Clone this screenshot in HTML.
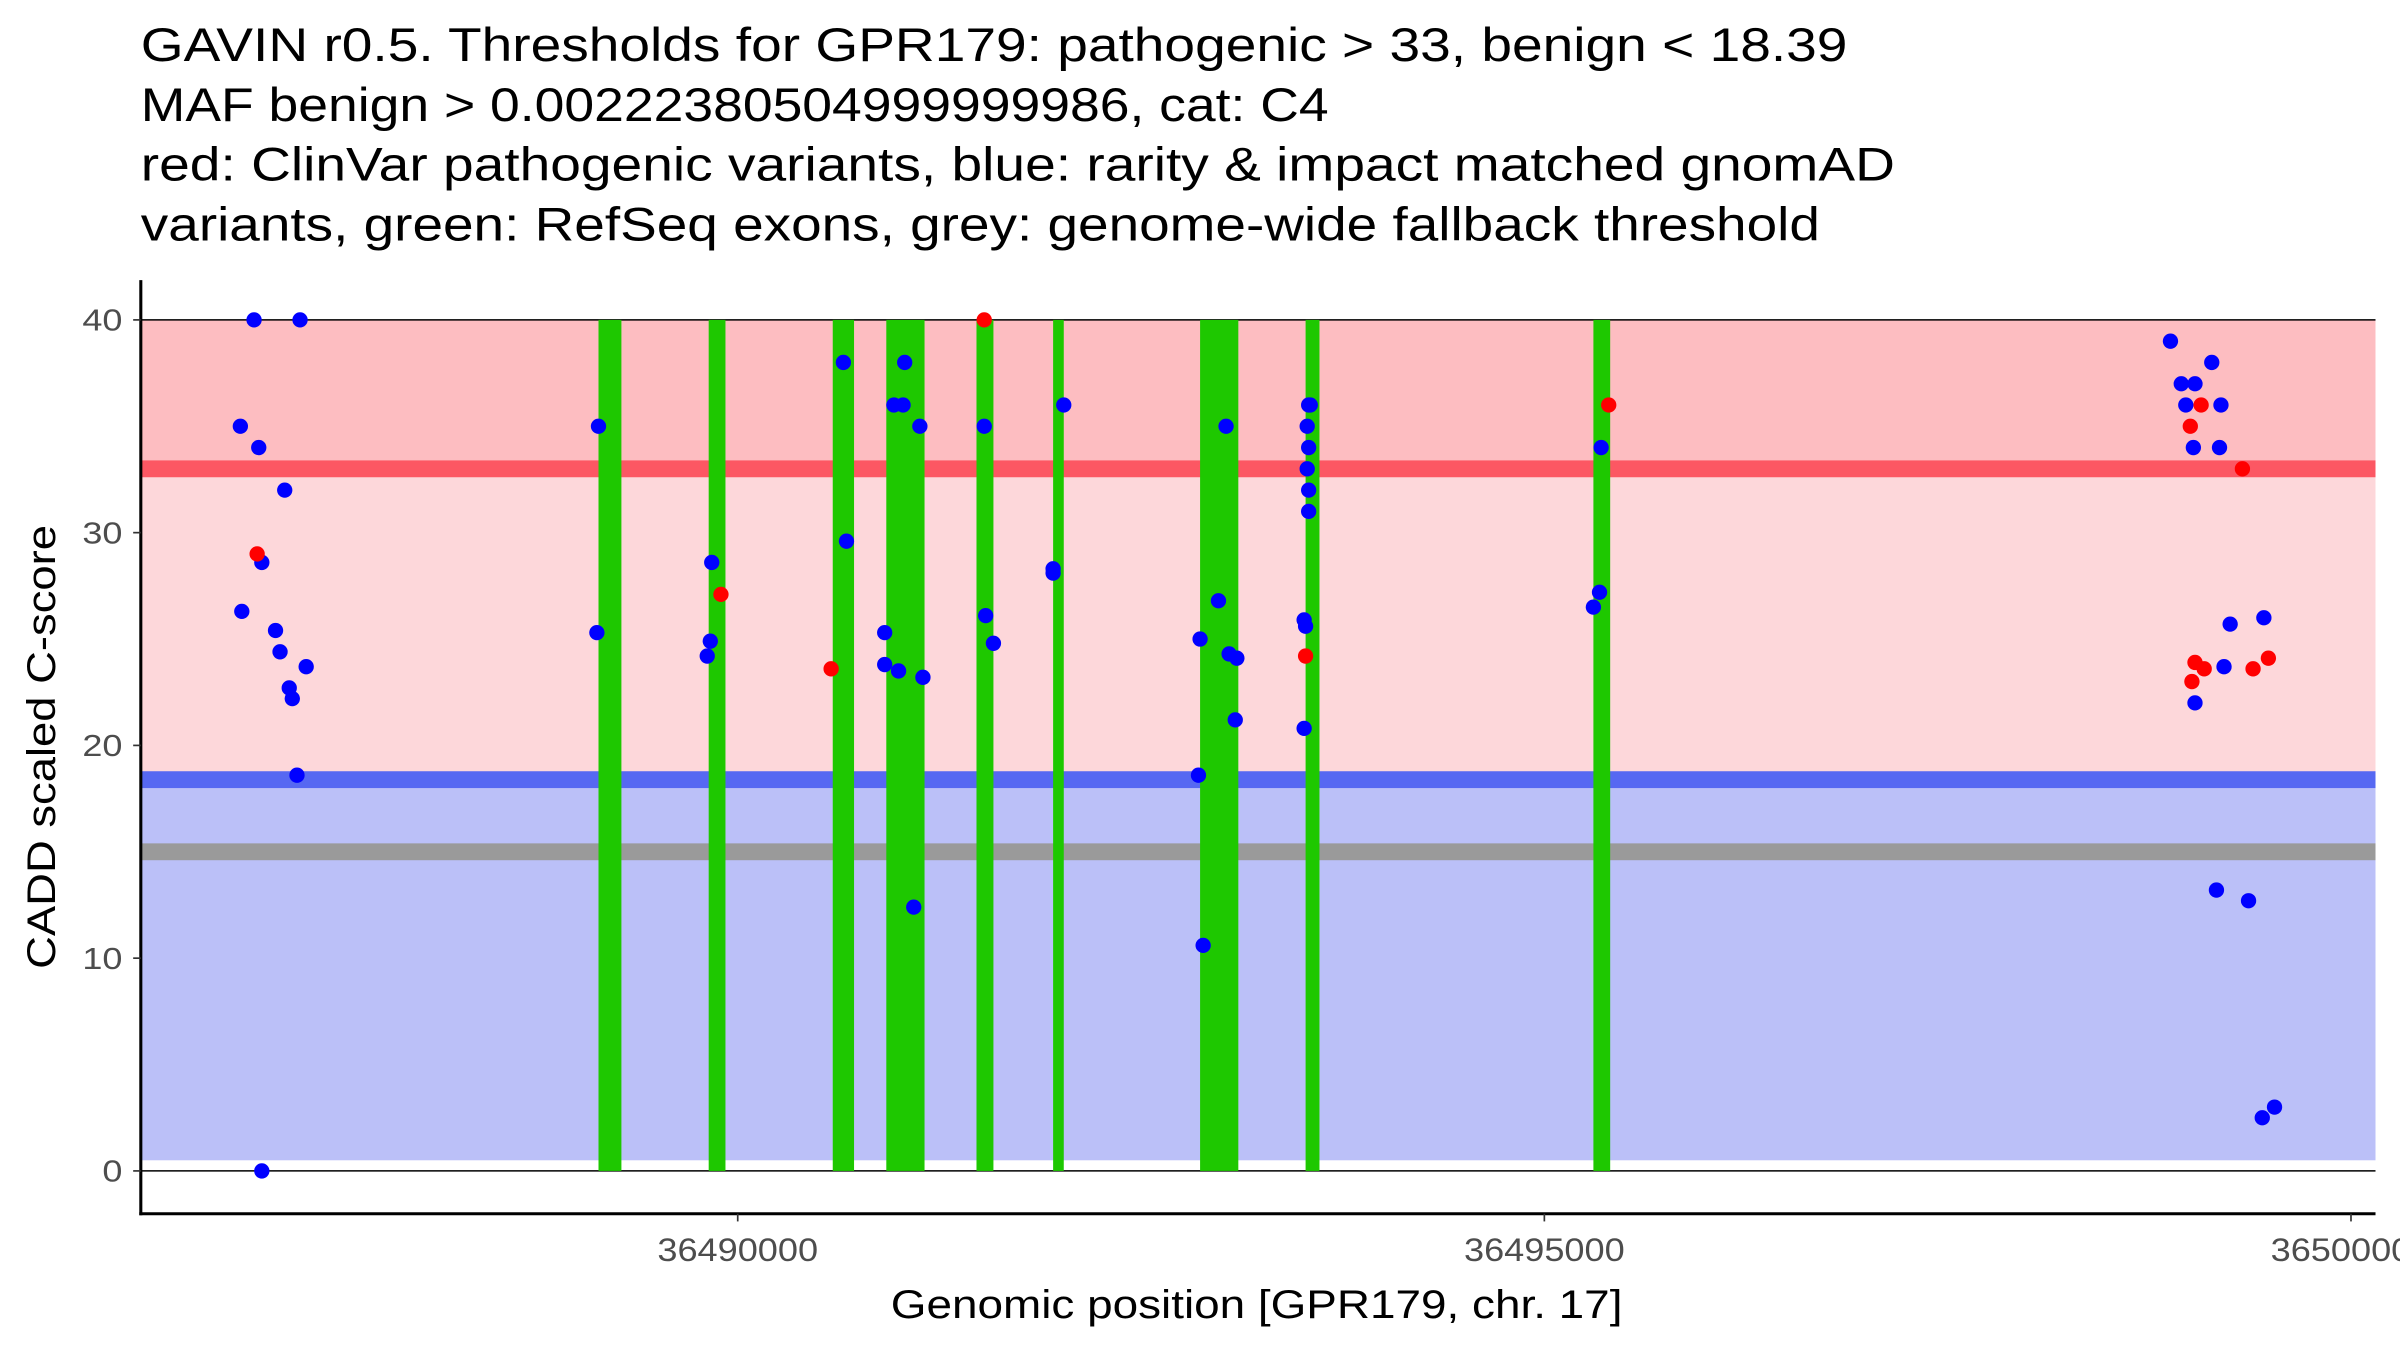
<!DOCTYPE html>
<html><head><meta charset="utf-8"><style>
html,body{margin:0;padding:0;background:#fff;}
svg{display:block;font-family:"Liberation Sans",Arial,sans-serif;}
</style></head><body>
<svg id="chart" width="2400" height="1350" viewBox="0 0 1568 882" xmlns="http://www.w3.org/2000/svg">
<g font-size="31" fill="#000">
<text x="92" y="40" textLength="1115" lengthAdjust="spacingAndGlyphs">GAVIN r0.5. Thresholds for GPR179: pathogenic &gt; 33, benign &lt; 18.39</text>
<text x="92" y="79" textLength="776" lengthAdjust="spacingAndGlyphs">MAF benign &gt; 0.00222380504999999986, cat: C4</text>
<text x="92" y="118" textLength="1146" lengthAdjust="spacingAndGlyphs">red: ClinVar pathogenic variants, blue: rarity &amp; impact matched gnomAD</text>
<text x="92" y="157" textLength="1097" lengthAdjust="spacingAndGlyphs">variants, green: RefSeq exons, grey: genome-wide fallback threshold</text>
</g>
<g id="plot"></g>
</svg>
<script>
const xTicks = [36490000, 36495000, 36500000];
const xTickLabels = ["36490000", "36495000", "36500000"];
const yTicks = [0, 10, 20, 30, 40];
const pathoThreshold = 33;
const benignThreshold = 18.39;
const fallbackThreshold = 15;
const exonStarts = [36489137, 36489820, 36490589, 36490921, 36491480, 36491955, 36492866, 36493520, 36495304];
const exonEnds   = [36489279, 36489924, 36490721, 36491158, 36491585, 36492021, 36493103, 36493606, 36495408];
const benignPos = [36487002,36487287,36486917,36487031,36487192,36487050,36486926,36487135,36487163,36487325,36487220,36487239,36487268,36487050,
 36489137,36489127,36489839,36489830,36489811,
 36490655,36490674,36490911,36490911,36490997,36491148,36491091,36490968,36491025,36491035,36491129,
 36491528,36491537,36491585,36492021,36491955,36491955,
 36493027,36492980,36492866,36493046,36493094,36493084,36492856,36492885,
 36493539,36493530,36493539,36493530,36493539,36493539,36493511,36493520,36493511,36493549,
 36495352,36495342,36495304,
 36498881,36498948,36499033,36499137,36498976,36499194,36499023,36499185,36499251,36499460,36499213,36499033,36499166,36499365,36499526,36499450];
const benignScore = [40,40,35,34,32,28.6,26.3,25.4,24.4,23.7,22.7,22.2,18.6,0,
 35,25.3,28.6,24.9,24.2,
 38,29.6,25.3,23.8,23.5,23.2,12.4,36,36,38,35,
 35,26.1,24.8,36,28.3,28.1,
 35,26.8,25,24.3,24.1,21.2,18.6,10.6,
 36,35,34,33,32,31,25.9,25.6,20.8,36,
 34,27.2,26.5,
 39,37,37,38,36,36,34,34,25.7,26,23.7,22,13.2,12.7,3,2.5];
const pathoPos = [36487021,36489896,36490579,36491528,36493520,36495399,36499004,36499071,36499327,36499033,36499090,36499014,36499393,36499488];
const pathoScore = [29,27.1,23.6,40,24.2,36,35,36,33,23.9,23.6,23,23.6,24.1];

const NS='http://www.w3.org/2000/svg';
const L=92,R=1552,T=183,B=793;
const xMin=36486300, xMax=36500152;
const xs=v=>L+(v-xMin)/(xMax-xMin)*(R-L);
const ys=v=>765-v*13.9;
const g=document.getElementById('plot');
function mk(tag,attrs,parent){const e=document.createElementNS(NS,tag);for(const k in attrs)e.setAttribute(k,attrs[k]);(parent||g).appendChild(e);return e;}

let e;
e=mk('rect',{x:L,y:ys(40),width:R-L,height:ys(pathoThreshold)-ys(40),fill:'#fdbdc1'});


e=mk('rect',{x:L,y:ys(pathoThreshold),width:R-L,height:ys(benignThreshold)-ys(pathoThreshold),fill:'#fdd7da'});


e=mk('rect',{x:L,y:ys(benignThreshold),width:R-L,height:ys(0.5)-ys(benignThreshold),fill:'#bbc0f8'});


e=mk('rect',{x:L,y:ys(pathoThreshold)-5.5,width:R-L,height:11,fill:'#fc5763'});


e=mk('rect',{x:L,y:ys(benignThreshold)-5.5,width:R-L,height:11,fill:'#5668f2'});


e=mk('rect',{x:L,y:ys(fallbackThreshold)-5.5,width:R-L,height:11,fill:'#9a9a9a'});


e=mk('line',{x1:L,x2:R,y1:ys(40),y2:ys(40),stroke:'#000','stroke-width':1});


e=mk('line',{x1:L,x2:R,y1:ys(0),y2:ys(0),stroke:'#000','stroke-width':1});



exonStarts.forEach((s,i)=>{
  const r=mk('rect',{x:xs(s),y:ys(40),width:xs(exonEnds[i])-xs(s),height:ys(0)-ys(40),fill:'#1ec800'});
  
  
});
benignPos.forEach((p,i)=>{
  const c=mk('circle',{cx:xs(p),cy:ys(benignScore[i]),r:5,fill:'#0000ff'});
  
  
});
pathoPos.forEach((p,i)=>{
  const c=mk('circle',{cx:xs(p),cy:ys(pathoScore[i]),r:5,fill:'#ff0000'});
  
  
});

e=mk('line',{x1:L,x2:L,y1:T,y2:B+1,stroke:'#000','stroke-width':2});


e=mk('line',{x1:L-1,x2:R,y1:B,y2:B,stroke:'#000','stroke-width':2});



yTicks.forEach(v=>{
  const t=mk('line',{x1:L-5,x2:L,y1:ys(v),y2:ys(v),stroke:'#333','stroke-width':1.1});
  
  
  const s=String(v);
  const tx=mk('text',{x:L-12,y:ys(v)+7,'text-anchor':'end','font-size':20,fill:'#4d4d4d',textLength:s.length*13.1,lengthAdjust:'spacingAndGlyphs'});
  tx.textContent=s;
  
  
});
xTicks.forEach((v,i)=>{
  const t=mk('line',{x1:xs(v),x2:xs(v),y1:B,y2:B+5,stroke:'#333','stroke-width':1.1});
  
  
  const tx=mk('text',{x:xs(v),y:824,'text-anchor':'middle','font-size':21,fill:'#4d4d4d',textLength:105,lengthAdjust:'spacingAndGlyphs'});
  tx.textContent=xTickLabels[i];
  
  
});
e=mk('text',{x:821,y:861,'text-anchor':'middle','font-size':26,fill:'#000',textLength:478,lengthAdjust:'spacingAndGlyphs'});
e.textContent='Genomic position [GPR179, chr. 17]';


e=mk('text',{x:0,y:0,'text-anchor':'middle','font-size':26,fill:'#000',textLength:290,lengthAdjust:'spacingAndGlyphs',transform:'translate(36,488) rotate(-90)'});
e.textContent='CADD scaled C-score';


</script>
</body></html>
